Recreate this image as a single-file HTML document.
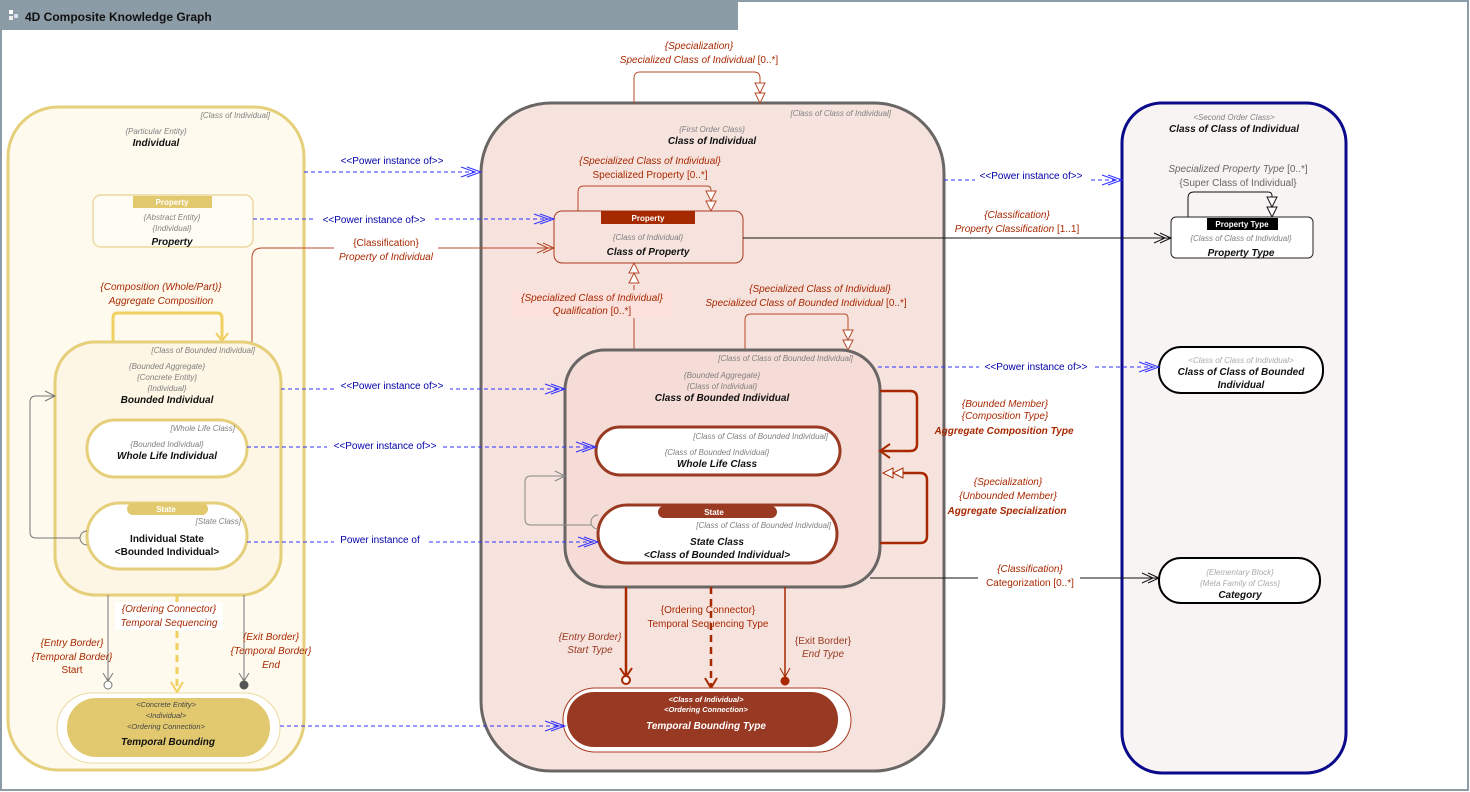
<!DOCTYPE html>
<html><head><meta charset="utf-8"><style>
html,body{margin:0;padding:0;background:#fff;}
svg{display:block;font-family:"Liberation Sans",Arial,sans-serif;}
.st{font-size:8px;font-style:italic;fill:#808080;}
.nm{font-size:10px;font-weight:bold;font-style:italic;fill:#111;}
.rd{font-size:10px;font-style:italic;fill:#a82800;}
.rn{font-size:10px;fill:#a82800;}
.bl{font-size:10px;fill:#0000a8;}
.pw{stroke:#3030ff;stroke-width:1;stroke-dasharray:4,3;fill:none;}
.pa{stroke:#3030ff;stroke-width:1;fill:none;}
</style></head><body>
<svg width="1470" height="792" viewBox="0 0 1470 792" xmlns="http://www.w3.org/2000/svg">
<rect x="1" y="1" width="1467" height="789" fill="#fff" stroke="#8c9ca6" stroke-width="2"/>
<rect x="0" y="0" width="738" height="30" fill="#8c9ca6"/>
<rect x="9" y="10" width="4" height="4" fill="#fff"/><rect x="14" y="14" width="4" height="4" fill="#dde"/><rect x="9" y="16" width="4" height="4" fill="#eee"/>
<text x="25" y="21" font-size="12" font-weight="bold" fill="#111">4D Composite Knowledge Graph</text>

<!-- LEFT container -->
<rect x="8" y="107" width="296" height="663" rx="50" fill="#fefaee" stroke="#e6cf7a" stroke-width="3"/>
<text x="270" y="118" class="st" text-anchor="end">[Class of Individual]</text>
<text x="156" y="134" class="st" text-anchor="middle">{Particular Entity}</text>
<text x="156" y="146" class="nm" text-anchor="middle">Individual</text>
<rect x="93" y="195" width="160" height="52" rx="8" fill="#fffdf3" stroke="#ecd9a0" stroke-width="1.5"/>
<rect x="133" y="196" width="79" height="12" fill="#e3c96e"/>
<text x="172" y="205" font-size="8" font-weight="bold" fill="#fff" text-anchor="middle">Property</text>
<text x="172" y="220" class="st" text-anchor="middle">{Abstract Entity}</text>
<text x="172" y="231" class="st" text-anchor="middle">{Individual}</text>
<text x="172" y="245" class="nm" text-anchor="middle">Property</text>

<text x="161" y="290" class="rd" text-anchor="middle">{Composition (Whole/Part)}</text>
<text x="161" y="304" class="rd" text-anchor="middle">Aggregate Composition</text>
<path d="M113 342 V318 Q113 313 118 313 H217 Q222 313 222 318 V340" fill="none" stroke="#f0d060" stroke-width="3"/>
<path d="M216 333 L222 341 L228 333" fill="none" stroke="#f0d060" stroke-width="2"/>

<rect x="55" y="342" width="226" height="253" rx="40" fill="#fdf6e4" stroke="#e6cf7a" stroke-width="3"/>
<text x="255" y="353" class="st" text-anchor="end">[Class of Bounded Individual]</text>
<text x="167" y="369" class="st" text-anchor="middle">{Bounded Aggregate}</text>
<text x="167" y="380" class="st" text-anchor="middle">{Concrete Entity}</text>
<text x="167" y="391" class="st" text-anchor="middle">{Individual}</text>
<text x="167" y="403" class="nm" text-anchor="middle">Bounded Individual</text>
<rect x="87" y="420" width="160" height="57" rx="28" fill="#fff" stroke="#e6cf7a" stroke-width="3"/>
<text x="235" y="431" class="st" text-anchor="end">[Whole Life Class]</text>
<text x="167" y="447" class="st" text-anchor="middle">{Bounded Individual}</text>
<text x="167" y="459" class="nm" text-anchor="middle">Whole Life Individual</text>
<rect x="87" y="503" width="160" height="66" rx="33" fill="#fff" stroke="#e6cf7a" stroke-width="3"/>
<rect x="127" y="503" width="81" height="12" rx="6" fill="#e3c96e"/>
<text x="166" y="512" font-size="8" font-weight="bold" fill="#fff" text-anchor="middle">State</text>
<text x="241" y="524" class="st" text-anchor="end">[State Class]</text>
<text x="167" y="542" font-size="10" font-weight="bold" fill="#111" text-anchor="middle">Individual State</text>
<text x="167" y="555" font-size="10" font-weight="bold" fill="#111" text-anchor="middle">&lt;Bounded Individual&gt;</text>
<path d="M87 531 A7 7 0 0 0 87 545" fill="none" stroke="#777"/>
<path d="M80 538 H36 Q30 538 30 532 V402 Q30 396 36 396 H55" fill="none" stroke="#777"/>
<path d="M45 391 L55 396 L45 401" fill="none" stroke="#777"/>

<path d="M108 595 V681" stroke="#777"/><path d="M103 673 L108 681 L113 673" fill="none" stroke="#777"/>
<circle cx="108" cy="685" r="4" fill="#fff" stroke="#777"/>
<path d="M244 595 V681" stroke="#777"/><path d="M239 673 L244 681 L249 673" fill="none" stroke="#777"/>
<circle cx="244" cy="685" r="4.5" fill="#555"/>
<path d="M177 595 V690" stroke="#f0d060" stroke-width="3" stroke-dasharray="7,5"/>
<path d="M171 682 L177 692 L183 682" fill="none" stroke="#f0d060" stroke-width="2"/>
<rect x="115" y="602" width="108" height="28" fill="#fff"/>
<text x="169" y="612" class="rd" text-anchor="middle">{Ordering Connector}</text>
<text x="169" y="626" class="rd" text-anchor="middle">Temporal Sequencing</text>
<text x="72" y="646" class="rd" text-anchor="middle">{Entry Border}</text>
<text x="72" y="660" class="rd" text-anchor="middle">{Temporal Border}</text>
<text x="72" y="673" class="rn" text-anchor="middle">Start</text>
<text x="271" y="640" class="rd" text-anchor="middle">{Exit Border}</text>
<text x="271" y="654" class="rd" text-anchor="middle">{Temporal Border}</text>
<text x="271" y="668" class="rd" text-anchor="middle">End</text>
<rect x="57" y="693" width="223" height="70" rx="35" fill="#fff" stroke="#ecd9a0"/>
<rect x="67" y="698" width="203" height="59" rx="29" fill="#e2c96f"/>
<text x="166" y="707" font-size="7.5" font-style="italic" fill="#444" text-anchor="middle">&lt;Concrete Entity&gt;</text>
<text x="166" y="718" font-size="7.5" font-style="italic" fill="#444" text-anchor="middle">&lt;Individual&gt;</text>
<text x="166" y="729" font-size="7.5" font-style="italic" fill="#444" text-anchor="middle">&lt;Ordering Connection&gt;</text>
<text x="168" y="745" class="nm" text-anchor="middle">Temporal Bounding</text>

<!-- MIDDLE container -->
<rect x="481" y="103" width="463" height="668" rx="70" fill="#f6e3de" stroke="#6b6666" stroke-width="3"/>
<text x="891" y="116" class="st" text-anchor="end">[Class of Class of Individual]</text>
<text x="712" y="132" class="st" text-anchor="middle">{First Order Class}</text>
<text x="712" y="144" class="nm" text-anchor="middle">Class of Individual</text>
<text x="699" y="49" class="rd" text-anchor="middle">{Specialization}</text>
<text x="699" y="63" class="rd" text-anchor="middle"><tspan>Specialized Class of Individual</tspan><tspan font-style="normal"> [0..*]</tspan></text>
<path d="M634 103 V78 Q634 72 640 72 H754 Q760 72 760 78 V83" fill="none" stroke="#b84a2a"/>
<path d="M755 83 H765 L760 93 Z M755 93 H765 L760 103 Z" fill="#fff" stroke="#b84a2a"/>

<text x="650" y="164" class="rd" text-anchor="middle">{Specialized Class of Individual}</text>
<text x="650" y="178" class="rn" text-anchor="middle">Specialized Property [0..*]</text>
<path d="M578 211 V192 Q578 186 584 186 H707 Q711 186 711 190 V191" fill="none" stroke="#b84a2a"/>
<path d="M706 191 H716 L711 201 Z M706 201 H716 L711 211 Z" fill="#fff" stroke="#b84a2a"/>
<rect x="554" y="211" width="189" height="52" rx="8" fill="#f6e3de" stroke="#a8381f"/>
<rect x="601" y="211" width="94" height="13" fill="#a52a00"/>
<text x="648" y="221" font-size="8" font-weight="bold" fill="#fff" text-anchor="middle">Property</text>
<text x="648" y="240" class="st" text-anchor="middle">{Class of Individual}</text>
<text x="648" y="255" class="nm" text-anchor="middle">Class of Property</text>

<path d="M634 350 V285" stroke="#b84a2a"/>
<path d="M629 283 H639 L634 273 Z M629 273 H639 L634 263 Z" fill="#fff" stroke="#b84a2a"/>
<rect x="512" y="290" width="160" height="28" fill="#fbe0dc"/>
<text x="592" y="301" class="rd" text-anchor="middle">{Specialized Class of Individual}</text>
<text x="592" y="314" class="rd" text-anchor="middle"><tspan>Qualification</tspan><tspan font-style="normal"> [0..*]</tspan></text>

<text x="820" y="292" class="rd" text-anchor="middle">{Specialized Class of Individual}</text>
<text x="806" y="306" class="rd" text-anchor="middle"><tspan>Specialized Class of Bounded Individual</tspan><tspan font-style="normal"> [0..*]</tspan></text>
<path d="M745 350 V320 Q745 314 751 314 H844 Q848 314 848 318 V330" fill="none" stroke="#b84a2a"/>
<path d="M843 330 H853 L848 340 Z M843 340 H853 L848 350 Z" fill="#fff" stroke="#b84a2a"/>

<rect x="565" y="350" width="315" height="237" rx="40" fill="#f5dcd6" stroke="#6b6666" stroke-width="3"/>
<text x="853" y="361" class="st" text-anchor="end">[Class of Class of Bounded Individual]</text>
<text x="722" y="378" class="st" text-anchor="middle">{Bounded Aggregate}</text>
<text x="722" y="389" class="st" text-anchor="middle">{Class of Individual}</text>
<text x="722" y="401" class="nm" text-anchor="middle">Class of Bounded Individual</text>
<rect x="596" y="427" width="244" height="48" rx="24" fill="#fff" stroke="#9a3a22" stroke-width="3"/>
<text x="828" y="439" class="st" text-anchor="end">[Class of Class of Bounded Individual]</text>
<text x="717" y="455" class="st" text-anchor="middle">{Class of Bounded Individual}</text>
<text x="717" y="467" class="nm" text-anchor="middle">Whole Life Class</text>
<rect x="598" y="505" width="239" height="58" rx="29" fill="#fff" stroke="#9a3a22" stroke-width="3"/>
<rect x="658" y="506" width="119" height="12" rx="6" fill="#9a3a22"/>
<text x="714" y="515" font-size="8" font-weight="bold" fill="#fff" text-anchor="middle">State</text>
<text x="831" y="528" class="st" text-anchor="end">[Class of Class of Bounded Individual]</text>
<text x="717" y="545" class="nm" text-anchor="middle">State Class</text>
<text x="717" y="558" class="nm" text-anchor="middle">&lt;Class of Bounded Individual&gt;</text>
<path d="M598 515 A7 7 0 0 0 598 529" fill="none" stroke="#888"/>
<path d="M591 525 H531 Q525 525 525 519 V482 Q525 476 531 476 H565" fill="none" stroke="#888"/>
<path d="M555 471 L565 476 L555 481" fill="none" stroke="#888"/>

<path d="M880 391 H910 Q917 391 917 398 V444 Q917 451 910 451 H882" fill="none" stroke="#a82800" stroke-width="2.5"/>
<path d="M890 444 L880 451 L890 458" fill="none" stroke="#a82800" stroke-width="2"/>
<text x="1005" y="407" class="rd" text-anchor="middle">{Bounded Member}</text>
<text x="1005" y="419" class="rd" text-anchor="middle">{Composition Type}</text>
<text x="1004" y="434" font-size="10" font-weight="bold" font-style="italic" fill="#a82800" text-anchor="middle">Aggregate Composition Type</text>
<path d="M880 543 H920 Q927 543 927 536 V480 Q927 473 920 473 H903" fill="none" stroke="#a82800" stroke-width="2.5"/>
<path d="M903 468 V478 L893 473 Z M893 468 V478 L883 473 Z" fill="#fff" stroke="#a82800"/>
<text x="1008" y="485" class="rd" text-anchor="middle">{Specialization}</text>
<text x="1008" y="499" class="rd" text-anchor="middle">{Unbounded Member}</text>
<text x="1007" y="514" font-size="10" font-weight="bold" font-style="italic" fill="#a82800" text-anchor="middle">Aggregate Specialization</text>

<path d="M626 587 V676" stroke="#a82800" stroke-width="2.5"/>
<path d="M620 668 L626 677 L632 668" fill="none" stroke="#a82800" stroke-width="2"/>
<circle cx="626" cy="680" r="4" fill="#fff" stroke="#a82800" stroke-width="2"/>
<path d="M711 587 V686" stroke="#a82800" stroke-width="2.5" stroke-dasharray="7,5"/>
<path d="M705 678 L711 688 L717 678" fill="none" stroke="#a82800" stroke-width="2"/>
<path d="M785 587 V677" stroke="#a82800" stroke-width="1.5"/>
<path d="M780 668 L785 677 L790 668" fill="none" stroke="#a82800"/>
<circle cx="785" cy="681" r="4.5" fill="#a82800"/>
<text x="708" y="613" class="rn" text-anchor="middle">{Ordering Connector}</text>
<text x="708" y="627" class="rn" text-anchor="middle">Temporal Sequencing Type</text>
<text x="590" y="640" font-size="10" font-style="italic" fill="#9a3a22" text-anchor="middle">{Entry Border}</text>
<text x="590" y="653" font-size="10" font-style="italic" fill="#9a3a22" text-anchor="middle">Start Type</text>
<text x="823" y="644" font-size="10" fill="#9a3a22" text-anchor="middle">{Exit Border}</text>
<text x="823" y="657" font-size="10" font-style="italic" fill="#9a3a22" text-anchor="middle">End Type</text>
<rect x="563" y="688" width="288" height="64" rx="32" fill="#fff" stroke="#a8381f"/>
<rect x="567" y="692" width="271" height="55" rx="27" fill="#983a23"/>
<text x="706" y="702" font-size="7.5" font-style="italic" font-weight="bold" fill="#fff" text-anchor="middle">&lt;Class of Individual&gt;</text>
<text x="706" y="712" font-size="7.5" font-style="italic" font-weight="bold" fill="#fff" text-anchor="middle">&lt;Ordering Connection&gt;</text>
<text x="706" y="729" class="nm" style="fill:#fff" text-anchor="middle">Temporal Bounding Type</text>

<!-- RIGHT container -->
<rect x="1122" y="103" width="224" height="670" rx="40" fill="#f9f4f4" stroke="#0a0a8a" stroke-width="3"/>
<text x="1234" y="120" class="st" text-anchor="middle">&lt;Second Order Class&gt;</text>
<text x="1234" y="132" class="nm" text-anchor="middle">Class of Class of Individual</text>
<text x="1238" y="172" font-size="10" font-style="italic" fill="#666" text-anchor="middle">Specialized Property Type<tspan font-style="normal"> [0..*]</tspan></text>
<text x="1238" y="186" font-size="10" fill="#666" text-anchor="middle">{Super Class of Individual}</text>
<path d="M1188 217 V198 Q1188 192 1194 192 H1268 Q1272 192 1272 196 V197" fill="none" stroke="#111"/>
<path d="M1267 197 H1277 L1272 207 Z M1267 207 H1277 L1272 217 Z" fill="#fff" stroke="#111"/>
<rect x="1171" y="217" width="142" height="41" rx="5" fill="#fff" stroke="#222"/>
<rect x="1207" y="218" width="71" height="12" fill="#000"/>
<text x="1242" y="227" font-size="8" font-weight="bold" fill="#fff" text-anchor="middle">Property Type</text>
<text x="1241" y="241" class="st" text-anchor="middle">{Class of Class of Individual}</text>
<text x="1241" y="256" class="nm" text-anchor="middle">Property Type</text>
<rect x="1159" y="347" width="164" height="46" rx="22" fill="#fff" stroke="#000" stroke-width="2"/>
<text x="1241" y="363" font-size="8" font-style="italic" fill="#aaa" text-anchor="middle">&lt;Class of Class of Individual&gt;</text>
<text x="1241" y="375" class="nm" text-anchor="middle">Class of Class of Bounded</text>
<text x="1241" y="388" class="nm" text-anchor="middle">Individual</text>
<rect x="1159" y="558" width="161" height="45" rx="22" fill="#fff" stroke="#000" stroke-width="2"/>
<text x="1240" y="575" font-size="8" font-style="italic" fill="#aaa" text-anchor="middle">{Elementary Block}</text>
<text x="1240" y="586" font-size="8" font-style="italic" fill="#aaa" text-anchor="middle">{Meta Family of Class}</text>
<text x="1240" y="598" class="nm" text-anchor="middle">Category</text>

<!-- Classification (red) -->
<path d="M252 342 V258 Q252 248 262 248 H554" fill="none" stroke="#b84a2a"/>
<path d="M543 243 L554 248 L543 253 M537 243 L548 248 L537 253" fill="none" stroke="#b84a2a"/>
<rect x="334" y="236" width="104" height="28" fill="#fff"/>
<text x="386" y="246" class="rn" text-anchor="middle">{Classification}</text>
<text x="386" y="260" class="rd" text-anchor="middle">Property of Individual</text>

<!-- Black assoc lines -->
<path d="M743 238 H1171" stroke="#111"/>
<path d="M1160 233 L1171 238 L1160 243 M1154 233 L1165 238 L1154 243" fill="none" stroke="#111"/>
<text x="1017" y="218" class="rd" text-anchor="middle">{Classification}</text>
<text x="1017" y="232" class="rd" text-anchor="middle">Property Classification<tspan font-style="normal"> [1..1]</tspan></text>
<path d="M870 578 H1159" stroke="#111"/>
<path d="M1148 573 L1159 578 L1148 583 M1142 573 L1153 578 L1142 583" fill="none" stroke="#111"/>
<rect x="978" y="563" width="102" height="26" fill="#fff"/>
<text x="1030" y="572" class="rd" text-anchor="middle">{Classification}</text>
<text x="1030" y="586" class="rn" text-anchor="middle">Categorization [0..*]</text>

<!-- Power instance lines -->
<path class="pw" d="M304 172 H481"/><path class="pa" d="M467 167 L481 172 L467 177 M461 167 L475 172 L461 177"/>
<text x="392" y="164" class="bl" text-anchor="middle">&lt;&lt;Power instance of&gt;&gt;</text>
<path class="pw" d="M253 219 H554"/><path class="pa" d="M540 214 L554 219 L540 224 M534 214 L548 219 L534 224"/>
<rect x="316" y="213" width="116" height="12" fill="#fff"/>
<text x="374" y="223" class="bl" text-anchor="middle">&lt;&lt;Power instance of&gt;&gt;</text>
<path class="pw" d="M281 389 H565"/><path class="pa" d="M551 384 L565 389 L551 394 M545 384 L559 389 L545 394"/>
<rect x="334" y="381" width="116" height="10" fill="#fff"/>
<text x="392" y="389" class="bl" text-anchor="middle">&lt;&lt;Power instance of&gt;&gt;</text>
<path class="pw" d="M247 447 H596"/><path class="pa" d="M582 442 L596 447 L582 452 M576 442 L590 447 L576 452"/>
<rect x="327" y="440" width="116" height="12" fill="#fff"/>
<text x="385" y="449" class="bl" text-anchor="middle">&lt;&lt;Power instance of&gt;&gt;</text>
<path class="pw" d="M247 542 H598"/><path class="pa" d="M584 537 L598 542 L584 547 M578 537 L592 542 L578 547"/>
<rect x="334" y="533" width="92" height="10" fill="#fff"/>
<text x="380" y="543" class="bl" text-anchor="middle">Power instance of</text>
<path class="pw" d="M280 726 H565"/><path class="pa" d="M551 721 L565 726 L551 731 M545 721 L559 726 L545 731"/>
<path class="pw" d="M944 180 H1122"/><path class="pa" d="M1108 175 L1122 180 L1108 185 M1102 175 L1116 180 L1102 185"/>
<rect x="975" y="170" width="114" height="12" fill="#fff"/>
<text x="1031" y="179" class="bl" text-anchor="middle">&lt;&lt;Power instance of&gt;&gt;</text>
<path class="pw" d="M878 367 H1159"/><path class="pa" d="M1145 362 L1159 367 L1145 372 M1139 362 L1153 367 L1139 372"/>
<rect x="979" y="361" width="114" height="12" fill="#fff"/>
<text x="1036" y="370" class="bl" text-anchor="middle">&lt;&lt;Power instance of&gt;&gt;</text>
</svg>
</body></html>
